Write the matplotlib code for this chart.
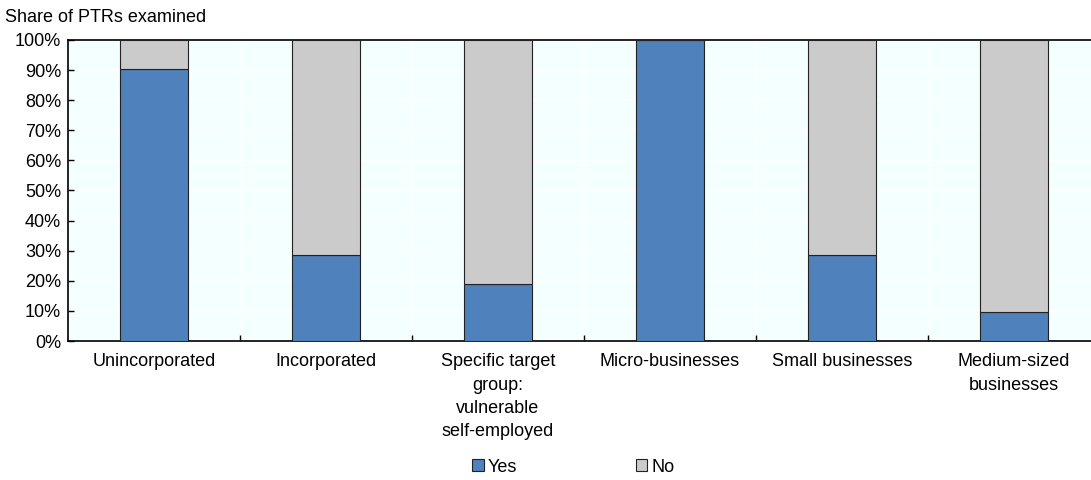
import matplotlib
matplotlib.use('Agg')
import matplotlib.pyplot as plt
from matplotlib.patches import Patch
from matplotlib.ticker import PercentFormatter, MultipleLocator, FixedLocator

plt.rcParams['font.family'] = ['Liberation Sans', 'DejaVu Sans']

categories = ['Unincorporated', 'Incorporated',
              'Specific target\ngroup:\nvulnerable\nself-employed',
              'Micro-businesses', 'Small businesses', 'Medium-sized\nbusinesses']
yes = [90.5, 28.6, 19.0, 100.0, 28.6, 9.5]
no = [100 - v for v in yes]

BLUE = '#4F81BD'
GREY = '#CBCBCB'
BG = '#F4FFFF'
FS = 13

fig = plt.figure(figsize=(10.91, 4.8), dpi=100)
ax = fig.add_axes([68 / 1091, 139 / 480, 1032 / 1091, 301 / 480])
ax.set_facecolor(BG)

x = list(range(len(categories)))
ax.bar(x, yes, width=0.4, color=BLUE, edgecolor='#222222', linewidth=0.8, zorder=3)
ax.bar(x, no, width=0.4, bottom=yes, color=GREY, edgecolor='#222222', linewidth=0.8, zorder=3)

ax.set_xlim(-0.5, len(categories) - 0.5)
ax.set_ylim(0, 100)
ax.yaxis.set_major_locator(MultipleLocator(10))
ax.yaxis.set_major_formatter(PercentFormatter(decimals=0))

ax.set_xticks(x)
ax.set_xticklabels(categories, linespacing=1.48, va='top')
ax.xaxis.set_minor_locator(FixedLocator([i + 0.5 for i in x[:-1]]))
ax.tick_params(axis='x', which='major', length=0, pad=9, labelsize=FS)
ax.tick_params(axis='x', which='minor', direction='in', length=4, width=1)
ax.tick_params(axis='y', direction='in', length=4, width=1, pad=5, labelsize=FS)

ax.grid(axis='y', color='white', linewidth=1.2, zorder=0)
ax.grid(axis='x', which='minor', color='white', linewidth=1.2, zorder=0)
ax.set_axisbelow(True)

for sp in ax.spines.values():
    sp.set_color('black')
    sp.set_linewidth(1.2)

fig.text(5 / 1091, 1 - 18 / 480, 'Share of PTRs examined', ha='left', va='center', fontsize=FS)

handles = [Patch(facecolor=BLUE, edgecolor='#222222', linewidth=0.8, label='Yes'),
           Patch(facecolor=GREY, edgecolor='#222222', linewidth=0.8, label='No')]
fig.legend(handles=handles, loc='center', bbox_to_anchor=(573 / 1091, 1 - 467 / 480),
           ncol=2, frameon=False, fontsize=FS, handlelength=0.65, handleheight=0.65,
           handletextpad=0.2, columnspacing=6.6)

fig.savefig('out.png', dpi=100)
